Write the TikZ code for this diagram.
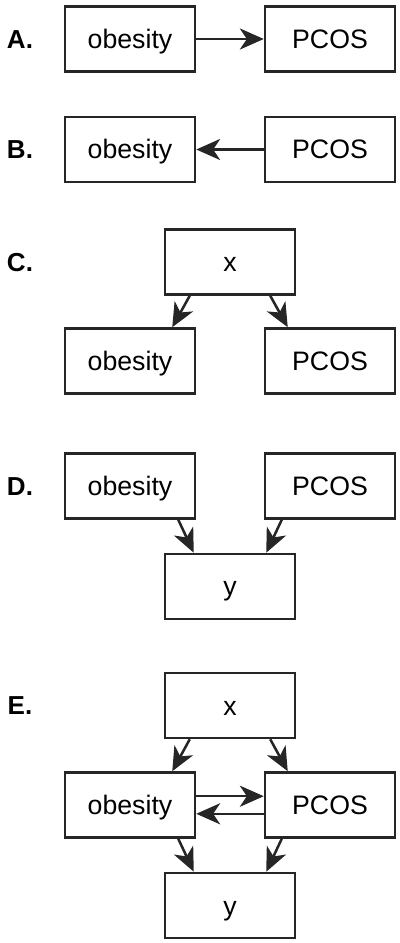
\documentclass[tikz,border=0pt]{standalone}
\usepackage{fontspec}
\setmainfont{Liberation Sans}
\usetikzlibrary{arrows.meta}

\begin{document}
\begin{tikzpicture}[every node/.style={draw=black!85, rectangle, line width=1.8pt, minimum width=3.25cm, minimum height=1.625cm, inner sep=0pt, text height=16.5pt, text depth=3pt, font=\fontsize{19}{22}\selectfont},
    arr/.style={-{Stealth[length=17pt,width=15pt,inset=5pt]}, line width=1.8pt, draw=black!85},
    lbl/.style={draw=none, minimum width=0pt, minimum height=0pt, text height=13pt, text depth=0pt, font=\fontsize{18.5}{22}\selectfont\bfseries}]
            \useasboundingbox (0,0) rectangle (10,-23.575);

            % A: obesity -> PCOS
            \begin{scope}[shift={(0,-0.975)}]
                \node[lbl] (lA) at (0.5,0) {A.};
                \node (ob) at (3.25,0) {obesity};
                \node (pc) at (8.25,0) {PCOS};

                \draw[arr] (ob) -- (pc);
            \end{scope}

            % B: PCOS -> obesity
            \begin{scope}[shift={(0,-3.7375)}]
                \node[lbl] (lB) at (0.5,0) {B.};
                \node (ob) at (3.25,0) {obesity};
                \node (pc) at (8.25,0) {PCOS};

                \draw[arr] (pc) -- (ob);
            \end{scope}

            % C: common cause x
            \begin{scope}[shift={(0,-6.55)}]
                \node[lbl] (lC) at (0.5,0) {C.};
                \node (x) at (5.75,0) {x};
                \node (ob) at (3.25,-2.475) {obesity};
                \node (pc) at (8.25,-2.475) {PCOS};

                \draw[arr] ([xshift=0.65cm]x.south west) -- ([xshift=-0.6cm]ob.north east);
                \draw[arr] ([xshift=-0.65cm]x.south east) -- ([xshift=0.6cm]pc.north west);
            \end{scope}

%second part _______________________________________________________

            % D: common effect y
            \begin{scope}[shift={(0,-12.15)}]
                \node[lbl] (lD) at (0.5,0) {D.};
                \node (ob) at (3.25,0) {obesity};
                \node (pc) at (8.25,0) {PCOS};
                \node (y) at (5.75,-2.5125) {y};

                \draw[arr] ([xshift=-0.45cm]ob.south east) -- ([xshift=0.75cm]y.north west);
                \draw[arr] ([xshift=0.45cm]pc.south west) -- ([xshift=-0.75cm]y.north east);
            \end{scope}

            % E: all of them together
            \begin{scope}[shift={(0,-17.6375)}]
                \node[lbl] (lE) at (0.5,0) {E.};
                \node (x) at (5.75,0) {x};
                \node (ob) at (3.25,-2.4875) {obesity};
                \node (pc) at (8.25,-2.4875) {PCOS};
                \node (y) at (5.75,-5) {y};

                \draw[arr] ([xshift=0.65cm]x.south west) -- ([xshift=-0.6cm]ob.north east);
                \draw[arr] ([xshift=-0.65cm]x.south east) -- ([xshift=0.6cm]pc.north west);
                \draw[arr] ([yshift=0.22cm]ob.east) -- ([yshift=0.22cm]pc.west);
                \draw[arr] ([yshift=-0.22cm]pc.west) -- ([yshift=-0.22cm]ob.east);
                \draw[arr] ([xshift=-0.45cm]ob.south east) -- ([xshift=0.75cm]y.north west);
                \draw[arr] ([xshift=0.45cm]pc.south west) -- ([xshift=-0.75cm]y.north east);
            \end{scope}

        \end{tikzpicture}
\end{document}
